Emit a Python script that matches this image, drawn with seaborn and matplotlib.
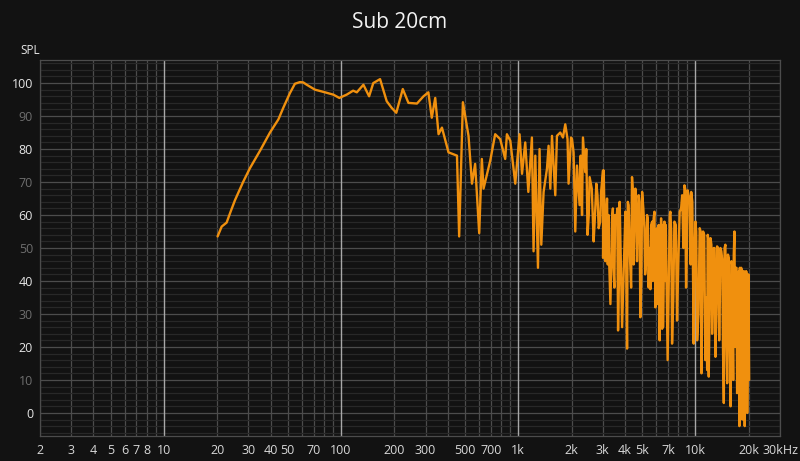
import numpy as np
import pandas as pd
import matplotlib
matplotlib.use("Agg")
import matplotlib.pyplot as plt
from matplotlib.ticker import FixedLocator, MultipleLocator
import seaborn as sns

# Frequency response (Hz, dB)
freq = [20.1, 21.2, 22.6, 23.8, 25.2, 28.0, 30.6, 34.9, 39.7, 44.3, 47.2, 51.5,
        54.9, 58.6, 61.2, 64.0, 71.3, 81.2, 90.4, 97.8, 107.6, 117, 122.7, 133.7,
        144, 152, 166, 181, 193, 205, 223, 240, 268, 292, 311, 325, 340, 355,
        371, 404, 451, 464, 487, 524, 548, 571, 602, 623, 637, 695, 741, 791,
        844, 863, 902, 962, 1017, 1050, 1095, 1140, 1194, 1220, 1248, 1292,
        1319, 1349, 1390, 1452, 1483, 1517, 1550, 1618, 1653, 1726, 1788,
        1842, 1897, 1923, 1985, 2011, 2052, 2098, 2145, 2219, 2318, 2388, 2461,
        2528, 2663, 2758, 2843, 2934, 3009, 3011, 3035, 3100, 3142, 3236, 3237,
        3312, 3383, 3486, 3581, 3658, 3735, 3855, 4024, 4112, 4199, 4334, 4385,
        4521, 4581, 4678, 4786, 4887, 5000, 5152, 5284, 5380, 5445, 5567, 5623,
        5808, 5943, 6068, 6125, 6200, 6281, 6398, 6483, 6530, 6561, 6683, 6761,
        6800, 6966, 7161, 7220, 7379, 7604, 7871, 8149, 8414, 8670, 8851, 9038,
        9290, 9463, 9703, 9772, 10000, 10221, 10568, 10816, 11041, 11376, 11643,
        11722, 11885, 12162, 12417, 12678, 12972, 13243, 13616, 13836, 14191,
        14456, 14757, 15101, 15417, 15777, 16107, 16331, 16597, 16905, 17180,
        17579, 17701, 18113, 18408, 18752, 18967, 19322, 19590, 19907, 20092]
spl = [53.5, 56.5, 57.7, 61.0, 64.5, 70.0, 74.2, 79.5, 85.0, 89.0, 92.5, 97.0,
       99.8, 100.3, 100.2, 99.5, 98.0, 97.2, 96.5, 95.5, 96.5, 97.7, 97.2, 99.5,
       96.0, 100.0, 101.2, 94.5, 92.5, 91.0, 98.2, 94.0, 93.8, 96.0, 97.2, 89.5,
       95.5, 84.5, 86.5, 79.0, 78.0, 53.5, 94.2, 84.0, 69.5, 75.5, 54.5, 77.0,
       68.0, 76.5, 84.5, 83.0, 77.0, 84.5, 82.5, 69.5, 84.5, 72.5, 82.0, 67.0,
       83.5, 49.0, 78.0, 44.0, 80.0, 51.0, 67.0, 74.0, 81.0, 68.0, 84.0, 66.0,
       84.0, 85.0, 83.5,
       87.5, 83.0, 69.5, 83.5, 83.0, 79.0, 55.0, 75.0, 63.0, 83.5, 73.0, 54.0,
       71.5, 52.0, 69.5, 56.0, 67.0, 73.5, 47.0, 73.5, 46.0, 61.0, 60.0, 51.0,
       33.0, 59.0, 38.0, 58.0, 25.0, 64.0, 26.0, 61.0, 19.5, 63.0, 38.0, 71.5,
       58.0, 68.0, 46.0, 66.0, 29.0, 67.0, 56.0, 46.0, 59.0, 38.0, 37.5, 57.0,
       59.0, 32.0, 56.0, 33.0, 57.0, 22.0, 59.0, 25.5, 57.0, 26.0, 58.0, 40.0,
       57.0, 16.0, 60.0, 61.0, 21.0, 58.0, 28.0, 61.0, 66.0, 69.0, 38.0, 67.5,
       65.0, 67.0, 37.0, 21.0, 58.0, 22.0, 56.0, 12.0, 55.0, 16.0, 13.0,
       54.0, 11.0, 53.0, 24.0, 50.0, 17.0, 50.5, 22.0, 50.0, 46.0,
       3.0, 51.0, 9.0, 47.0, 2.0, 45.0, 10.0, 55.0, 44.0, 6.0,
       43.0, -4.0, 44.0, -2.0, 43.0, -4.0, 43.0, 0.0, 42.0, 10.0]

# more readings inside the dense band above 2 kHz
extra_freq = [2250, 2290, 2420, 2500, 2600, 2700, 2800, 2900,
              3170, 3200, 3420, 3440, 3520, 3620, 3700,
              4060, 4150, 4250, 4450, 4480, 4620, 4720, 4830, 4950,
              5080, 5200, 5330, 5500, 5700, 5750, 5870, 6000, 6170,
              7300, 7500, 7750, 8000, 8300, 8550, 8750, 8950, 9150, 9400, 9600, 9850,
              10100, 10400, 10700, 10950, 11200, 11500, 11800, 12000,
              12300, 12550, 12800, 13100, 13400, 13700, 14000, 14300, 14600, 14900,
              15250, 15600, 15950, 16200, 16450, 16750, 17050, 17350, 17800, 17900,
              18250, 18600, 18850, 19100, 19450, 19750]
extra_spl = [78, 60, 80, 60, 68, 58, 66, 58,
             65, 45, 62, 45, 60, 62, 40,
             48, 64, 50, 66, 45, 66, 55, 64, 40,
             62, 42, 60, 50, 58, 40, 61, 45, 48,
             55, 35, 57, 45, 62, 50, 68, 50, 66, 45, 64, 45,
             55, 30, 55, 40, 54, 35, 53, 30,
             51, 35, 50, 30, 50, 30, 49, 20, 50, 25,
             48, 20, 46, 25, 48, 20, 44, 15, 44, 10,
             43, 15, 42, 10, 42, 20]

xtick_pos = [2, 3, 4, 5, 6, 7, 8, 10, 20, 30, 40, 50, 70, 100, 200, 300, 500,
             700, 1000, 2000, 3000, 4000, 5000, 7000, 10000, 20000, 30000]
xtick_labels = ["2", "3", "4", "5", "6", "7", "8", "10", "20", "30", "40", "50",
                "70", "100", "200", "300", "500", "700", "1k", "2k", "3k", "4k",
                "5k", "7k", "10k", "20k", "30kHz"]

df = pd.concat([pd.DataFrame({"freq": freq, "spl": spl}),
                pd.DataFrame({"freq": extra_freq, "spl": extra_spl})])
df = df.sort_values("freq", kind="stable").reset_index(drop=True)

sns.set_style("dark")
plt.rcParams["font.family"] = ["Open Sans", "DejaVu Sans"]
bg = "#121212"

fig = plt.figure(figsize=(8, 4.61), dpi=100, facecolor=bg)
ax = fig.add_axes([40 / 800, 1 - 436 / 461, 740 / 800, 376 / 461], facecolor=bg)

ax.set_xscale("log")
ax.set_xlim(2, 30000)
ax.set_ylim(-7, 107)

# grid
ax.yaxis.set_major_locator(MultipleLocator(10))
ax.yaxis.set_minor_locator(MultipleLocator(2))
ax.grid(axis="y", which="major", color="#4c4c4c", lw=0.9, zorder=0)
ax.grid(axis="y", which="minor", color="#282828", lw=0.9, zorder=0)

all_x = [m * 10 ** e for e in range(0, 5) for m in range(1, 10)]
all_x = [v for v in all_x if 2 <= v <= 30000]
for v in all_x:
    if v in (10, 100, 1000, 10000):
        ax.axvline(v, color="#a8a8a8", lw=1.0, zorder=0.6)
    else:
        ax.axvline(v, color="#4c4c4c", lw=0.9, zorder=0.5)

sns.lineplot(data=df, x="freq", y="spl", ax=ax, color="#f0900e", lw=1.7,
             sort=False, estimator=None, zorder=3)

ax.xaxis.set_major_locator(FixedLocator(xtick_pos))
ax.xaxis.set_minor_locator(FixedLocator([]))
ax.set_xticklabels(xtick_labels)
ax.tick_params(axis="x", length=0, pad=6, labelsize=9, labelcolor="#d8d8d8")
ax.tick_params(axis="y", which="major", length=3, color="#555555", pad=2,
               labelsize=9)
ax.tick_params(axis="y", which="minor", length=0)

for t, v in zip(ax.get_yticklabels(), ax.get_yticks()):
    t.set_color("#e6e6e6" if int(round(v)) % 20 == 0 else "#6e6e6e")

ax.set_xlabel("")
ax.set_ylabel("")
for s in ax.spines.values():
    s.set_color("#4c4c4c")
    s.set_linewidth(0.9)

fig.text(0.5, 1 - 22 / 461, "Sub 20cm", ha="center", va="center",
         fontsize=15, color="#f2f2f2")
fig.text(30 / 800, 1 - 50 / 461, "SPL", ha="center", va="center",
         fontsize=8.5, color="#e6e6e6")

fig.savefig("out.png", dpi=100, facecolor=bg)
